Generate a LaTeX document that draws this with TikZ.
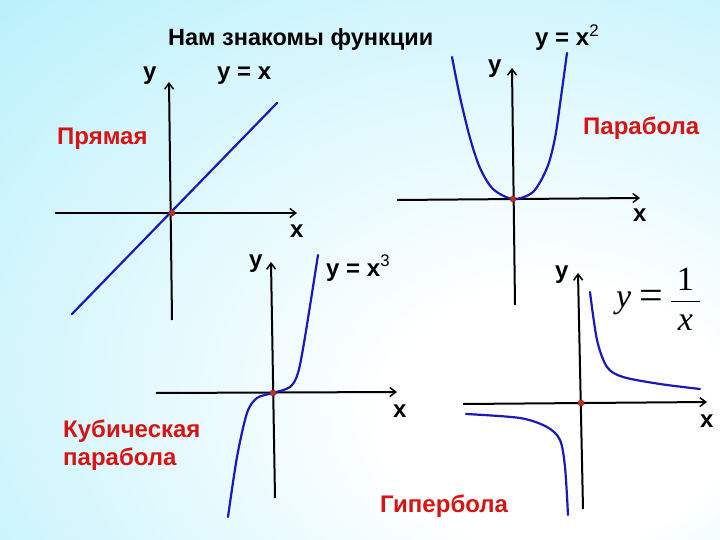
\documentclass[tikz,border=0pt]{standalone}
\usepackage{fontspec}
\setmainfont{Liberation Sans}
\newfontfamily\timesfont{Liberation Serif}
\usepackage{tikz}
\usetikzlibrary{arrows.meta}
\definecolor{curveblue}{RGB}{25,25,185}
\definecolor{namered}{RGB}{215,20,20}
\definecolor{bgcyan}{RGB}{172,238,250}
\definecolor{dotred}{RGB}{200,45,35}
\pgfdeclareradialshading{bgglow}{\pgfpoint{16bp}{-16bp}}{color(0bp)=(white); color(12bp)=(white); color(52bp)=(bgcyan); color(80bp)=(bgcyan)}
\tikzstyle{title} = [font=\fontsize{23.5}{26}\selectfont\bfseries, anchor=base west, inner sep=0pt]
\tikzstyle{axlabel} = [font=\fontsize{24}{26}\selectfont\bfseries, anchor=base west, inner sep=0pt]
\tikzstyle{fname} = [font=\fontsize{24}{28}\selectfont\bfseries, text=namered, anchor=base west, inner sep=0pt, align=left]
\tikzstyle{axis} = [line width=2pt, -{Straight Barb[length=6pt,width=9pt,line width=1.5pt]}]
\tikzstyle{curve} = [line width=2.2pt, draw=curveblue, line cap=round]
\tikzstyle{origin} = [circle, fill=dotred, draw=dotred!70!black, inner sep=0pt, minimum size=6pt]

\begin{document}
\begin{tikzpicture}[x=1pt, y=-1pt]
            \useasboundingbox (0,0) rectangle (720,540);
            \shade[shading=bgglow] (0,0) rectangle (720,540);

            % Nodes
            \node (title) [title] at (168,46) {Нам знакомы функции};

            \node (ylin) [axlabel] at (143,80) {y};
            \node (eqlin) [axlabel] at (217,80) {y = x};
            \node (xlin) [axlabel] at (290,237) {x};
            \node (linname) [fname] at (57,145) {Прямая};

            \node (ysq) [axlabel] at (488,73) {y};
            \node (eqsq) [axlabel] at (535,46) {y = x\textsuperscript{\mdseries 2}};
            \node (xsq) [axlabel] at (633,222) {x};
            \node (sqname) [fname] at (583,135) {Парабола};

            \node (ycub) [axlabel] at (249,267) {y};
            \node (eqcub) [axlabel] at (326,276) {y = x\textsuperscript{\mdseries 3}};
            \node (xcub) [axlabel] at (393,417) {x};
            \node (cubname) [fname] at (63,465) {Кубическая\\парабола};

            \node (yhyp) [axlabel] at (555,278) {y};
            \node (eqhyp) [anchor=base west, inner sep=0pt, font=\fontsize{34}{38}\selectfont\timesfont] at (616,307)
                {\textit{y}\hspace{8pt}\raisebox{-2pt}{\fontsize{42}{42}\selectfont=}\hspace{7pt}$\displaystyle\frac{\mbox{\,1\,\rule[-5pt]{0pt}{5pt}}}{\mbox{\rule{0pt}{28pt}\,\itshape x\,}}$};
            \node (xhyp) [axlabel] at (700,427) {x};
            \node (hypname) [fname] at (380,512) {Гипербола};

            % Axes
            \draw [axis] (55,213) -- (297,213);
            \draw [axis] (172,320) -- (169,82);
            \draw [axis] (397,200) -- (640,198);
            \draw [axis] (515,305) -- (512,68);
            \draw [axis] (156,393) -- (397,392);
            \draw [axis] (275,498) -- (271,262);
            \draw [axis] (463,404) -- (707,402);
            \draw [axis] (583,509) -- (578,273);

            % Curves
            \draw [curve] (72,314) -- (277,103);
            \draw [curve] plot[smooth] coordinates {(452,57) (460,97) (470,138) (480,168) (493,189) (513,199)
                (533,192) (547,168) (555,138) (561,97) (567,53)};
            \draw [curve] plot[smooth] coordinates {(228,517) (237,457) (247,413) (257,398) (273,393)
                (290,387) (298,373) (305,337) (318,255)};
            \draw [curve] plot[smooth] coordinates {(590,292) (597,340) (607,367) (623,377) (660,384) (700,389)};
            \draw [curve] plot[smooth] coordinates {(466,414) (520,418) (547,427) (560,440) (565,467) (568,515)};

            % Origins
            \node (olin) [origin] at (172,213) {};
            \node (osq) [origin] at (513,199) {};
            \node (ocub) [origin] at (273,393) {};
            \node (ohyp) [origin] at (581,403) {};
\end{tikzpicture}
\end{document}
